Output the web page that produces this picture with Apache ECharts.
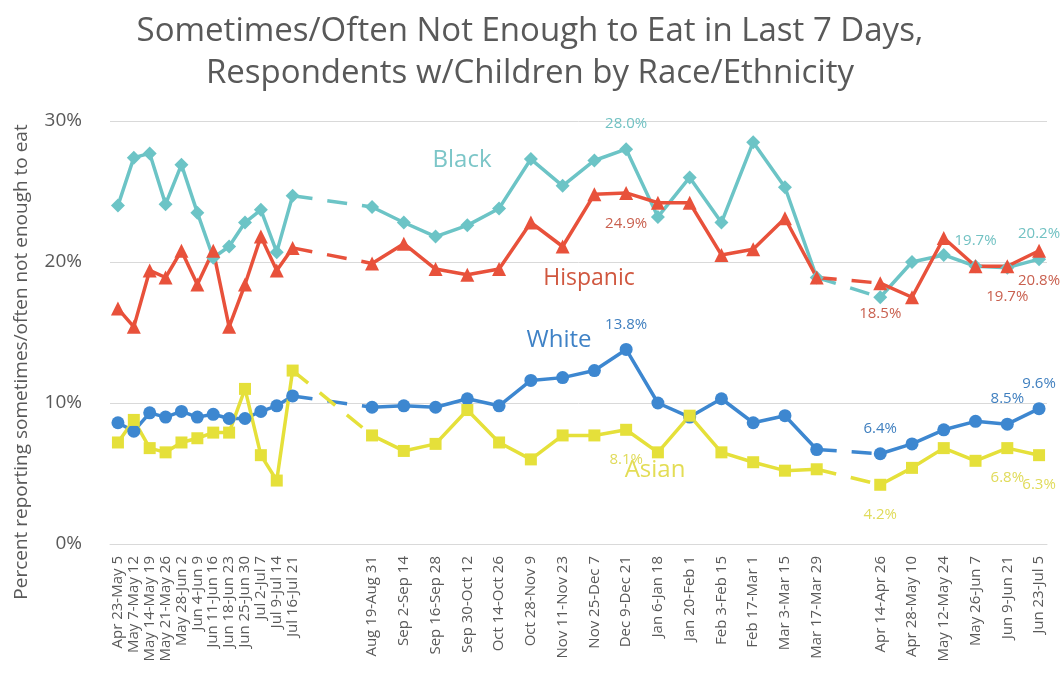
<!DOCTYPE html>
<html>
<head>
<meta charset="utf-8">
<script src="https://cdn.jsdelivr.net/npm/echarts@6/dist/echarts.min.js"></script>
<style>
  html, body { margin: 0; padding: 0; background: #ffffff; }
  #chart { width: 1060px; height: 680px; }
</style>
</head>
<body>
<div id="chart"></div>
<script>
// Survey periods: phase 1 ran weekly, phases 2 and 3 every two weeks
const phase1 = ['Apr 23-May 5', 'May 7-May 12', 'May 14-May 19', 'May 21-May 26', 'May 28-Jun 2', 'Jun 4-Jun 9',
  'Jun 11-Jun 16', 'Jun 18-Jun 23', 'Jun 25-Jun 30', 'Jul 2-Jul 7', 'Jul 9-Jul 14', 'Jul 16-Jul 21'];
const phase2 = ['Aug 19-Aug 31', 'Sep 2-Sep 14', 'Sep 16-Sep 28', 'Sep 30-Oct 12', 'Oct 14-Oct 26', 'Oct 28-Nov 9',
  'Nov 11-Nov 23', 'Nov 25-Dec 7', 'Dec 9-Dec 21', 'Jan 6-Jan 18', 'Jan 20-Feb 1', 'Feb 3-Feb 15',
  'Feb 17-Mar 1', 'Mar 3-Mar 15', 'Mar 17-Mar 29'];
const phase3 = ['Apr 14-Apr 26', 'Apr 28-May 10', 'May 12-May 24', 'May 26-Jun 7', 'Jun 9-Jun 21', 'Jun 23-Jul 5'];

// Percent reporting sometimes/often not enough to eat, in period order
const black = [24.0, 27.4, 27.7, 24.1, 26.9, 23.5, 20.3, 21.1, 22.8, 23.7, 20.7, 24.7,
  23.9, 22.8, 21.8, 22.6, 23.8, 27.3, 25.4, 27.2, 28.0, 23.2, 26.0, 22.8, 28.5, 25.3, 18.9,
  17.5, 20.0, 20.5, 19.7, 19.6, 20.2];
const hispanic = [16.7, 15.4, 19.4, 18.9, 20.8, 18.4, 20.8, 15.4, 18.4, 21.8, 19.4, 21.0,
  19.9, 21.3, 19.5, 19.1, 19.5, 22.8, 21.1, 24.8, 24.9, 24.2, 24.2, 20.5, 20.9, 23.1, 18.9,
  18.5, 17.5, 21.7, 19.7, 19.7, 20.8];
const white = [8.6, 8.0, 9.3, 9.0, 9.4, 9.0, 9.2, 8.9, 8.9, 9.4, 9.8, 10.5,
  9.7, 9.8, 9.7, 10.3, 9.8, 11.6, 11.8, 12.3, 13.8, 10.0, 9.0, 10.3, 8.6, 9.1, 6.7,
  6.4, 7.1, 8.1, 8.7, 8.5, 9.6];
const asian = [7.2, 8.8, 6.8, 6.5, 7.2, 7.5, 7.9, 7.9, 11.0, 6.3, 4.5, 12.3,
  7.7, 6.6, 7.1, 9.5, 7.2, 6.0, 7.7, 7.7, 8.1, 6.5, 9.1, 6.5, 5.8, 5.2, 5.3,
  4.2, 5.4, 6.8, 5.9, 6.8, 6.3];

// Periods whose value is printed next to the marker
const labeledBlack = ['Dec 9-Dec 21', 'May 26-Jun 7', 'Jun 23-Jul 5'];
const labeledHispanic = ['Dec 9-Dec 21', 'Apr 14-Apr 26', 'Jun 9-Jun 21', 'Jun 23-Jul 5'];
const labeledWhite = ['Dec 9-Dec 21', 'Apr 14-Apr 26', 'Jun 9-Jun 21', 'Jun 23-Jul 5'];
const labeledAsian = ['Dec 9-Dec 21', 'Apr 14-Apr 26', 'Jun 9-Jun 21', 'Jun 23-Jul 5'];

const yTicks = [0, 10, 20, 30];

// Build a week-based slot axis: one slot per week, empty slots for the pauses
const slots = [];
const pos = [];
const periods = [];
phase1.forEach(l => { pos.push(slots.length); periods.push(l); slots.push(l); });
for (let i = 0; i < 4; i++) slots.push('');
phase2.forEach((l, i) => { if (i) slots.push(''); pos.push(slots.length); periods.push(l); slots.push(l); });
for (let i = 0; i < 3; i++) slots.push('');
phase3.forEach((l, i) => { if (i) slots.push(''); pos.push(slots.length); periods.push(l); slots.push(l); });

function solidData(vals, labeled) {
  const d = [];
  let prev = -1;
  vals.forEach((v, i) => {
    const x = pos[i];
    if (prev >= 0 && x - prev > 2) d.push([prev + 1, '-']);
    const item = { value: [x, v] };
    if (labeled.indexOf(periods[i]) >= 0) item.label = { show: true };
    d.push(item);
    prev = x;
  });
  return d;
}

function gapData(vals) {
  const d = [];
  for (let i = 1; i < vals.length; i++) {
    if (pos[i] - pos[i - 1] > 2) {
      if (d.length) d.push([pos[i - 1] + 1, '-']);
      d.push([pos[i - 1], vals[i - 1]], [pos[i], vals[i]]);
    }
  }
  return d;
}

const FONT = '"Open Sans", "Noto Sans", sans-serif';

function raceSeries(name, vals, labeled, color, labelColor, symbol, size, above) {
  return [
    {
      name: name,
      type: 'line',
      data: solidData(vals, labeled),
      connectNulls: false,
      symbol: symbol,
      symbolSize: size,
      itemStyle: { color: color },
      lineStyle: { color: color, width: 3.5 },
      label: {
        show: false,
        position: above ? 'top' : 'bottom',
        distance: above ? 11 : 16,
        color: labelColor,
        fontFamily: FONT,
        fontSize: 15,
        formatter: p => p.value[1].toFixed(1) + '%'
      },
      emphasis: { disabled: true },
      z: 3
    },
    {
      name: name + ' gap',
      type: 'line',
      data: gapData(vals),
      connectNulls: false,
      symbol: 'none',
      lineStyle: { color: color, width: 3.5, type: [20, 15] },
      emphasis: { disabled: true },
      z: 2
    }
  ];
}

const chart = echarts.init(document.getElementById('chart'), null, { renderer: 'canvas' });

chart.setOption({
  backgroundColor: '#ffffff',
  animation: false,
  title: {
    text: 'Sometimes/Often Not Enough to Eat in Last 7 Days,\nRespondents w/Children by Race/Ethnicity',
    left: 'center',
    top: 6,
    textStyle: { fontFamily: FONT, fontSize: 33, fontWeight: 'normal', color: '#595959', lineHeight: 42 }
  },
  grid: { left: 110, right: 13, top: 121, bottom: 136 },
  xAxis: {
    type: 'category',
    data: slots,
    boundaryGap: true,
    axisLine: { show: true, lineStyle: { color: '#d9d9d9', width: 1 } },
    axisTick: { show: false },
    axisLabel: {
      interval: 0,
      rotate: 90,
      margin: 12,
      fontFamily: FONT,
      fontSize: 15,
      color: '#595959'
    }
  },
  yAxis: {
    type: 'value',
    min: yTicks[0],
    max: yTicks[yTicks.length - 1],
    interval: 10,
    axisLine: { show: false },
    axisTick: { show: false },
    splitLine: { lineStyle: { color: '#d9d9d9', width: 1 } },
    axisLabel: {
      margin: 28,
      fontFamily: FONT,
      fontSize: 19,
      color: '#595959',
      formatter: '{value}%'
    }
  },
  graphic: [
    {
      type: 'text', x: 22, y: 362, rotation: Math.PI / 2,
      style: { text: 'Percent reporting sometimes/often not enough to eat', fontFamily: FONT, fontSize: 19,
        fill: '#595959', align: 'center', verticalAlign: 'middle' }
    },
    { type: 'text', x: 462, y: 160, style: { text: 'Black', fontFamily: FONT, fontSize: 24, fill: '#7cc6c8', align: 'center', verticalAlign: 'middle' } },
    { type: 'text', x: 589, y: 278, style: { text: 'Hispanic', fontFamily: FONT, fontSize: 23, fill: '#d0573f', align: 'center', verticalAlign: 'middle' } },
    { type: 'text', x: 559, y: 340, style: { text: 'White', fontFamily: FONT, fontSize: 24, fill: '#3f82c6', align: 'center', verticalAlign: 'middle' } },
    { type: 'text', x: 655, y: 470, style: { text: 'Asian', fontFamily: FONT, fontSize: 24, fill: '#e3dd55', align: 'center', verticalAlign: 'middle' } }
  ],
  series: [].concat(
    raceSeries('Black', black, labeledBlack, '#6cc4c6', '#72c2c3', 'diamond', 14, true),
    raceSeries('Hispanic', hispanic, labeledHispanic, '#e8513b', '#c9604f', 'triangle', 14, false),
    raceSeries('White', white, labeledWhite, '#3d87d0', '#3f7fbf', 'circle', 13, true),
    raceSeries('Asian', asian, labeledAsian, '#e5e03a', '#e0db5a', 'rect', 12, false)
  )
});
</script>
</body>
</html>
